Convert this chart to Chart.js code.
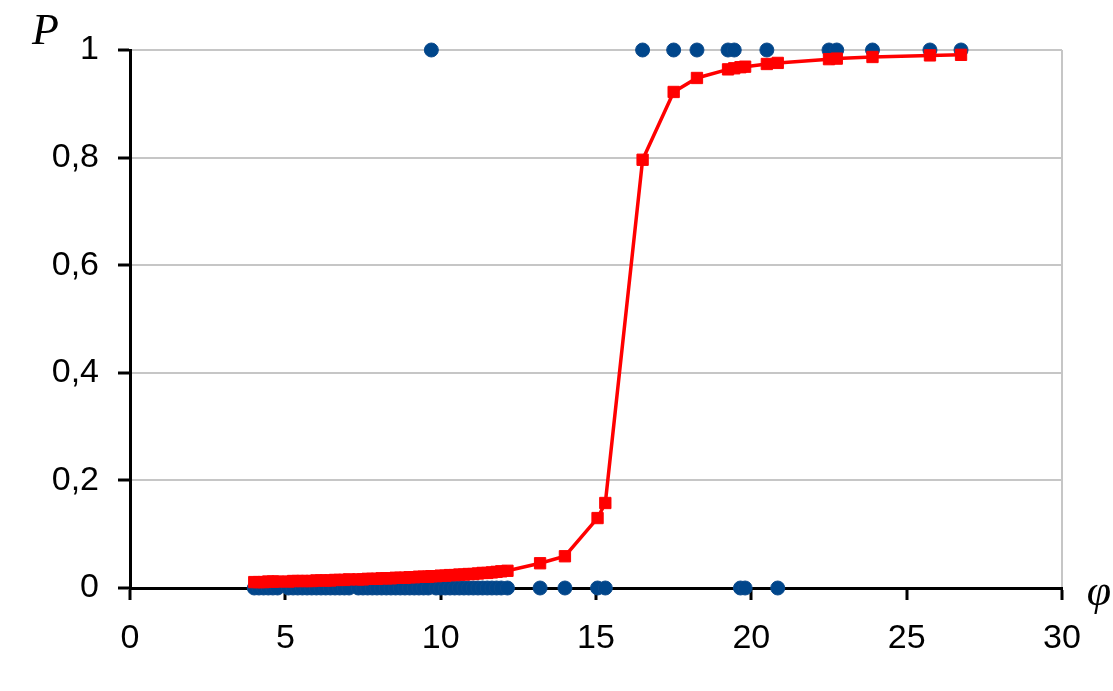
<!DOCTYPE html>
<html>
<head>
<meta charset="utf-8">
<title>P(φ)</title>
<script src="https://cdn.jsdelivr.net/npm/chart.js@4/dist/chart.umd.min.js"></script>
<style>
  html, body { margin: 0; padding: 0; background: #ffffff; }
  #wrap { width: 1113px; height: 691px; }
</style>
</head>
<body>
<div id="wrap"><canvas id="chart" width="1113" height="691"></canvas></div>
<script>
// Observed outcomes: φ values where the event did not occur (P = 0)
const phiZero = [
  4.0, 4.15, 4.3, 4.45, 4.6, 4.75, 5.1, 5.25, 5.4, 5.55, 5.7, 5.85, 6.0, 6.15,
  6.3, 6.45, 6.6, 6.75, 6.9, 7.05, 7.35, 7.5, 7.65, 7.8, 7.95, 8.1, 8.25, 8.4,
  8.55, 8.7, 8.85, 9.0, 9.15, 9.3, 9.45, 9.6, 9.85, 10.0, 10.15, 10.3, 10.45,
  10.6, 10.75, 10.9, 11.05, 11.2, 11.35, 11.5, 11.65, 11.8, 11.95, 12.15,
  13.2, 14.0, 15.05, 15.3, 19.65, 19.8, 20.85
];

// Observed outcomes: φ values where the event occurred (P = 1)
const phiOne = [9.7, 16.5, 17.5, 18.25, 19.25, 19.45, 20.5, 22.5, 22.75, 23.9, 25.75, 26.75];

// Fitted probability curve
const fitPhi = [
  4.0, 4.15, 4.3, 4.45, 4.6, 4.75, 5.1, 5.25, 5.4, 5.55, 5.7, 5.85, 6.0, 6.15,
  6.3, 6.45, 6.6, 6.75, 6.9, 7.05, 7.35, 7.5, 7.65, 7.8, 7.95, 8.1, 8.25, 8.4,
  8.55, 8.7, 8.85, 9.0, 9.15, 9.3, 9.45, 9.6, 9.7, 9.85, 10.0, 10.15, 10.3, 10.45,
  10.6, 10.75, 10.9, 11.05, 11.2, 11.35, 11.5, 11.65, 11.8, 11.95, 12.15,
  13.2, 14.0, 15.05, 15.3, 16.5, 17.5, 18.25, 19.25, 19.45, 19.65, 19.8,
  20.5, 20.85, 22.5, 22.75, 23.9, 25.75, 26.75
];
const fitP = [
  0.011, 0.011, 0.011, 0.012, 0.012, 0.012, 0.012, 0.013, 0.013, 0.013, 0.013, 0.013, 0.014, 0.014,
  0.014, 0.014, 0.015, 0.015, 0.015, 0.016, 0.016, 0.016, 0.017, 0.017, 0.017, 0.018, 0.018, 0.018,
  0.019, 0.019, 0.019, 0.020, 0.020, 0.021, 0.021, 0.021, 0.022, 0.022, 0.023, 0.023, 0.024, 0.024,
  0.025, 0.025, 0.026, 0.026, 0.027, 0.028, 0.028, 0.029, 0.030, 0.031, 0.032,
  0.046, 0.059, 0.130, 0.158, 0.796, 0.922, 0.948, 0.964, 0.966, 0.968, 0.969,
  0.974, 0.976, 0.983, 0.984, 0.987, 0.990, 0.991
];

// Axis ticks
const xTicks = [0, 5, 10, 15, 20, 25, 30];
const yTicks = [0, 0.2, 0.4, 0.6, 0.8, 1];
const yTickLabels = ['0', '0,2', '0,4', '0,6', '0,8', '1'];

const observed = phiZero.map(x => ({ x: x, y: 0 }))
  .concat(phiOne.map(x => ({ x: x, y: 1 })));
const fitted = fitPhi.map((x, i) => ({ x: x, y: fitP[i] }));

const tickFont = { family: '"Liberation Sans", Arial, sans-serif', size: 34 };

// Italic axis symbols P and φ
const axisSymbols = {
  id: 'axisSymbols',
  afterDraw(chart) {
    const ctx = chart.ctx;
    ctx.save();
    ctx.fillStyle = '#000000';
    ctx.font = 'italic 44px "Liberation Serif", "Times New Roman", serif';
    ctx.textAlign = 'left';
    ctx.textBaseline = 'alphabetic';
    ctx.fillText('P', 32, 44);
    ctx.font = 'italic 44px "Liberation Serif", "Times New Roman", serif';
    ctx.textAlign = 'center';
    ctx.textBaseline = 'alphabetic';
    ctx.fillText('φ', 1099, 605);
    ctx.restore();
  }
};

new Chart(document.getElementById('chart'), {
  type: 'scatter',
  data: {
    datasets: [
      {
        label: 'fit',
        data: fitted,
        showLine: true,
        borderColor: '#ff0000',
        borderWidth: 3.5,
        backgroundColor: '#ff0000',
        pointStyle: 'rect',
        pointRadius: 8,
        pointBorderWidth: 1,
        pointBorderColor: '#ff0000',
        pointBackgroundColor: '#ff0000',
        clip: false,
        order: 1
      },
      {
        label: 'observed',
        data: observed,
        showLine: false,
        pointStyle: 'circle',
        pointRadius: 7,
        pointBorderWidth: 1,
        pointBorderColor: '#0b4a8c',
        pointBackgroundColor: '#00468b',
        clip: false,
        order: 2
      }
    ]
  },
  options: {
    responsive: false,
    animation: false,
    devicePixelRatio: 1,
    layout: { padding: { left: 0, top: 50, right: 51, bottom: 0 } },
    plugins: { legend: { display: false }, tooltip: { enabled: false } },
    scales: {
      x: {
        type: 'linear',
        min: 0,
        max: 30,
        afterFit(scale) { scale.height = 103; },
        afterBuildTicks(scale) { scale.ticks = xTicks.map(v => ({ value: v })); },
        ticks: {
          color: '#000000',
          font: tickFont,
          padding: 18,
          maxRotation: 0,
          callback: v => String(v)
        },
        grid: {
          drawOnChartArea: true,
          color: ctx => (ctx.tick && ctx.tick.value === 30 ? '#c6c6c6' : 'rgba(0,0,0,0)'),
          lineWidth: 2,
          tickColor: '#000000',
          tickLength: 12,
          tickWidth: 3
        },
        border: { display: true, color: '#000000', width: 3 }
      },
      y: {
        type: 'linear',
        min: 0,
        max: 1,
        afterFit(scale) { scale.width = 130; },
        afterBuildTicks(scale) { scale.ticks = yTicks.map(v => ({ value: v })); },
        ticks: {
          color: '#000000',
          font: tickFont,
          padding: 19,
          callback: (v) => {
            const i = yTicks.findIndex(t => Math.abs(t - v) < 1e-9);
            return i >= 0 ? yTickLabels[i] : '';
          }
        },
        grid: {
          drawOnChartArea: true,
          color: ctx => (ctx.tick && ctx.tick.value > 0 ? '#c6c6c6' : 'rgba(0,0,0,0)'),
          lineWidth: 2,
          tickColor: '#000000',
          tickLength: 12,
          tickWidth: 3
        },
        border: { display: true, color: '#000000', width: 3 }
      }
    }
  },
  plugins: [axisSymbols]
});
</script>
</body>
</html>
